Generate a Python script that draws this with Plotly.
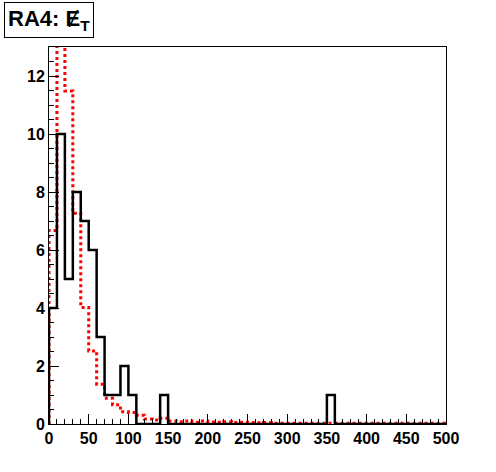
import numpy as np
import plotly.graph_objects as go

# bin edges 0..500, width 10
bin_edges = list(range(0, 510, 10))

# black histogram (data), 50 bins
data_counts = [4, 10, 5, 8, 7, 6, 3, 1, 1, 2,
               1, 0, 0, 0, 1, 0, 0, 0, 0, 0,
               0, 0, 0, 0, 0, 0, 0, 0, 0, 0,
               0, 0, 0, 0, 0, 1, 0, 0, 0, 0,
               0, 0, 0, 0, 0, 0, 0, 0, 0, 0]

# red dotted histogram (MC), 50 bins
mc_counts = [6.67, 15.0, 11.48, 7.27, 4.02, 2.52, 1.37, 0.89, 0.66, 0.42,
             0.40, 0.30, 0.17, 0.14, 0.20, 0.10, 0.08, 0.10, 0.06, 0.10,
             0.07, 0.06, 0.08, 0.05, 0.06, 0.05, 0.04, 0.05, 0.03, 0.03,
             0.03, 0.03, 0.03, 0.03, 0.03, 0.03, 0.03, 0.03, 0.03, 0.03,
             0.03, 0.03, 0.03, 0.03, 0.03, 0.03, 0.03, 0.03, 0.03, 0.03]

x_ticks = [0, 50, 100, 150, 200, 250, 300, 350, 400, 450, 500]
y_ticks = [0, 2, 4, 6, 8, 10, 12]


def step_xy(edges, vals):
    xs = [edges[0]] + list(edges)
    ys = [0] + list(vals) + [0]
    return xs, ys


fig = go.Figure()

mx, my = step_xy(bin_edges, mc_counts)
fig.add_trace(go.Scatter(x=mx, y=my, mode="lines", line_shape="hv",
                         line=dict(color="#ff0000", width=3, dash="dot"),
                         showlegend=False, hoverinfo="skip"))

dx, dy = step_xy(bin_edges, data_counts)
fig.add_trace(go.Scatter(x=dx, y=dy, mode="lines", line_shape="hv",
                         line=dict(color="black", width=2.5),
                         showlegend=False, hoverinfo="skip"))

tick_font = dict(family="Liberation Sans, Arial, sans-serif", size=16, color="black", weight="bold")

fig.update_layout(
    width=496, height=472,
    margin=dict(l=49, r=50, t=47, b=48, autoexpand=False),
    paper_bgcolor="white", plot_bgcolor="white",
    xaxis=dict(range=[0, 500], tickvals=x_ticks, ticktext=[str(v) for v in x_ticks],
               ticks="inside", ticklen=10, tickwidth=1, tickcolor="black",
               minor=dict(dtick=10, tick0=0, ticks="inside", ticklen=5, tickcolor="black", showgrid=False),
               showline=True, linecolor="black", linewidth=1, mirror=True,
               showgrid=False, zeroline=False, tickfont=tick_font),
    yaxis=dict(range=[0, 13], tickvals=y_ticks, ticktext=[str(v) for v in y_ticks],
               ticks="inside", ticklen=10, tickwidth=1, tickcolor="black",
               minor=dict(dtick=0.5, tick0=0, ticks="inside", ticklen=5, tickcolor="black", showgrid=False),
               showline=True, linecolor="black", linewidth=1, mirror=True,
               showgrid=False, zeroline=False, tickfont=tick_font),
)

title_font = dict(family="Liberation Sans, DejaVu Sans, Arial, sans-serif", size=22, color="black", weight="bold")

fig.add_annotation(
    xref="paper", yref="paper", x=(4 - 49) / 397, y=(424 - 2) / 377, xanchor="left", yanchor="top",
    text="RA4: \u0246<sub>T</sub>", showarrow=False, font=title_font,
    bordercolor="black", borderwidth=1, borderpad=3, bgcolor="white",
)

fig.write_html("out.html", config={"displayModeBar": False},
               post_script="document.body.style.margin='0';")
